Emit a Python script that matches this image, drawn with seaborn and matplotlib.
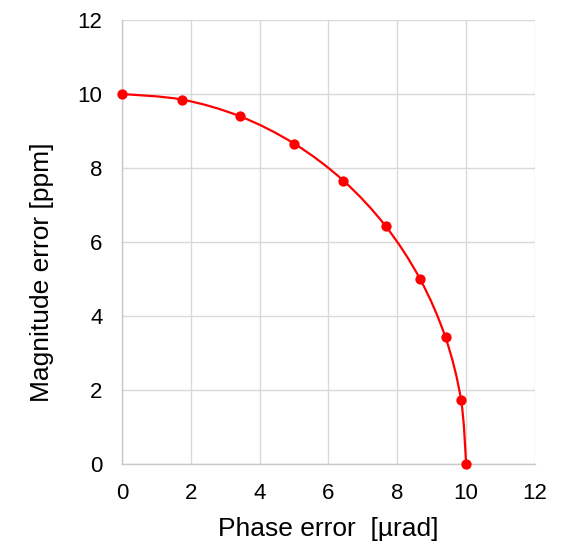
import numpy as np
import pandas as pd
import matplotlib
matplotlib.use("Agg")
import matplotlib.pyplot as plt
from matplotlib.path import Path
from matplotlib.patches import PathPatch
import seaborn as sns

# Measured error pairs
phase_error = [0.0, 1.74, 3.42, 5.0, 6.43, 7.66, 8.66, 9.40, 9.85, 10.0]
magnitude_error = [10.0, 9.85, 9.40, 8.66, 7.66, 6.43, 5.0, 3.42, 1.74, 0.0]
ticks = [0, 2, 4, 6, 8, 10, 12]

df = pd.DataFrame({"phase": phase_error, "magnitude": magnitude_error})

sns.set_theme(style="white")
plt.rcParams["font.family"] = ["Liberation Sans", "DejaVu Sans"]

fig = plt.figure(figsize=(5.72, 5.45), dpi=100)
ax = fig.add_axes([0.2133, 0.1486, 0.7220, 0.8147])

RED = "#ff0000"


def smooth_path(xs, ys, tension=1 / 6):
    """Cubic Bezier path through the points (Catmull-Rom style smoothing)."""
    pts = np.column_stack([xs, ys]).astype(float)
    n = len(pts)
    verts = [pts[0]]
    codes = [Path.MOVETO]
    for i in range(n - 1):
        p0 = pts[i - 1] if i > 0 else pts[i]
        p1 = pts[i]
        p2 = pts[i + 1]
        p3 = pts[i + 2] if i + 2 < n else pts[i + 1]
        c1 = p1 + (p2 - p0) * tension
        c2 = p2 - (p3 - p1) * tension
        verts += [c1, c2, p2]
        codes += [Path.CURVE4] * 3
    return Path(verts, codes)


ax.add_patch(PathPatch(smooth_path(df["phase"], df["magnitude"]),
                       facecolor="none", edgecolor=RED, lw=1.6,
                       capstyle="round", joinstyle="round", zorder=3))

sns.scatterplot(data=df, x="phase", y="magnitude", ax=ax, color=RED,
                s=55, edgecolor=RED, linewidth=0, zorder=4, clip_on=False,
                legend=False)

ax.set_xlim(0, 12)
ax.set_ylim(0, 12)
ax.set_xticks(ticks)
ax.set_yticks(ticks)
ax.set_xticklabels([str(t) for t in ticks])
ax.set_yticklabels([str(t) for t in ticks])

ax.grid(True, color="#d9d9d9", lw=1.0)
ax.set_axisbelow(True)
for side in ("top", "right"):
    ax.spines[side].set_visible(False)
for side in ("left", "bottom"):
    ax.spines[side].set_color("#c8c8c8")
    ax.spines[side].set_linewidth(1.0)

ax.tick_params(axis="both", length=0, labelsize=16, colors="black", pad=14)

ax.set_xlabel("Phase error  [µrad]", fontsize=19, color="black", labelpad=9)
ax.set_ylabel("Magnitude error [ppm]", fontsize=19, color="black",
              labelpad=17, y=0.432)

fig.savefig("out.png", dpi=100)
